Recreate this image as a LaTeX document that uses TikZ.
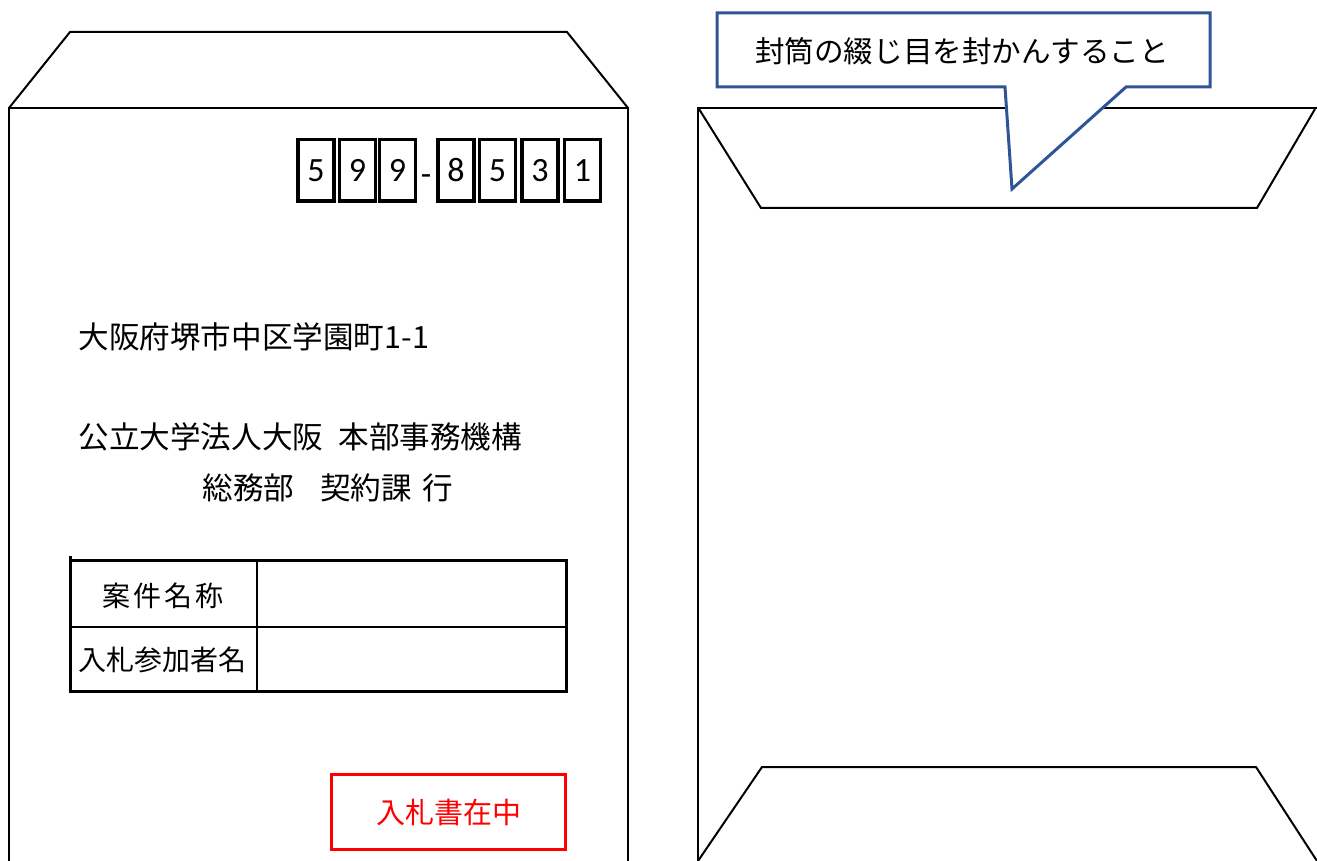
\documentclass[tikz,border=0pt]{standalone}
\usepackage{fontspec}
\setmainfont{Carlito}
\newfontfamily\jpfont{Noto Sans CJK JP}
\usetikzlibrary{positioning}
\definecolor{noteblue}{RGB}{47,85,151}

\begin{document}
\begin{tikzpicture}[x=0.5pt, y=-0.5pt,
  envline/.style={line width=1pt},
  digitbox/.style={draw, line width=1.75pt, minimum width=18pt, minimum height=30.75pt, inner sep=0pt, font=\fontsize{17}{17}\selectfont},
  addr/.style={anchor=west, inner sep=0pt, font=\jpfont\fontsize{15.3}{15.3}\selectfont},
  cell/.style={inner sep=0pt, font=\jpfont\fontsize{14}{14}\selectfont}]
\useasboundingbox (0,0) rectangle (1317,861);
% front of the envelope
\draw[envline] (9,108)--(70,32)--(567,32)--(628,108);
\draw[envline] (9,880)--(9,108)--(628,108)--(628,880);
\foreach \d/\cx [count=\i] in {5/316, 9/357.5, 9/397.5, 8/456, 5/497.5, 3/540, 1/582.5}
  \node[digitbox] (zip\i) at (\cx,170.5) {\d};
\node[inner sep=0pt, anchor=base, font=\fontsize{17}{17}\selectfont] (zipdash) at (426,186) {-};
\node[addr] (addr1) at (78,337) {大阪府堺市中区学園町1-1};
\node[addr] (addr2) at (78,437) {公立大学法人大阪\hspace{0.5em}本部事務機構};
\node[addr] (addr3) at (202,488) {総務部\hspace{0.85em}契約課\hspace{0.35em}行};
\draw[line width=1.5pt] (70,556)--(70,691)--(566,691)--(566,560)--(69.25,560);
\draw[line width=1pt] (257,560)--(257,691);
\draw[line width=1pt] (70,627)--(566,627);
\node[cell] (case) at (163,596) {案\kern0.1em 件\kern0.1em 名\kern0.1em 称};
\node[cell] (bidder) at (162,660) {入札参加者名};
\node[draw=red, line width=1.5pt, minimum width=117pt, minimum height=37.5pt, inner sep=0pt, text=red, font=\jpfont\fontsize{14.5}{14.5}\selectfont] (stamp) at (448.5,812) {入札書在中};
% back of the envelope
\draw[envline] (698,880)--(698,108)--(1320,108)--(1320,880);
\draw[envline] (699,109)--(761,208)--(1257,208)--(1315,109);
\draw[envline] (698,861)--(762,767)--(1256,767)--(1317,861);
\draw[noteblue, fill=white, line width=1.5pt] (717,13)--(1210,13)--(1210,87)--(1126,87)--(1012,189)--(1005,87)--(717,87)--cycle;
\node[inner sep=0pt, font=\jpfont\fontsize{14.8}{14.8}\selectfont] (note) at (962,51) {封筒の綴じ目を封かんすること};
\end{tikzpicture}
\end{document}
